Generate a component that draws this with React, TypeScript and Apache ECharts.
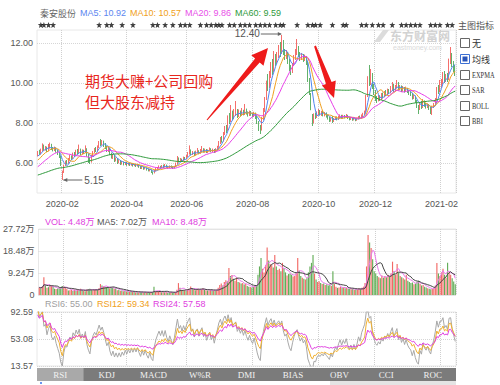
import React, { useEffect, useRef } from 'react';
import * as echarts from 'echarts';

const stockName = '秦安股份';
const priceLegend = ['MA5: 10.92', 'MA10: 10.57', 'MA20: 9.86', 'MA60: 9.59'];
const volLegend = ['VOL: 4.48万', 'MA5: 7.02万', 'MA10: 8.48万'];
const rsiLegend = ['RSI6: 55.00', 'RSI12: 59.34', 'RSI24: 57.58'];
const priceTicks = [6, 8, 10, 12];
const volTicks = [0, 9.24, 18.48, 27.72];
const rsiTicks = [13.57, 53.08, 92.59];
const indicatorTabs = ['RSI', 'KDJ', 'MACD', 'W%R', 'DMI', 'BIAS', 'OBV', 'CCI', 'ROC'];
const overlayOptions = ['无', '均线', 'EXPMA', 'SAR', 'BOLL', 'BBI'];
const noteLines = ['期货大赚+公司回购', '但大股东减持'];

const tradingDays: [string, number[]][] = [
  ['2020-01', [2, 3, 6, 7, 8, 9, 10, 13, 14, 15, 16, 17, 20, 21, 22, 23]],
  ['2020-02', [3, 4, 5, 6, 7, 10, 11, 12, 13, 14, 17, 18, 19, 20, 21, 24, 25, 26, 27, 28]],
  ['2020-03', [2, 3, 4, 5, 6, 9, 10, 11, 12, 13, 16, 17, 18, 19, 20, 23, 24, 25, 26, 27, 30, 31]],
  ['2020-04', [1, 2, 3, 7, 8, 9, 10, 13, 14, 15, 16, 17, 20, 21, 22, 23, 24, 27, 28, 29, 30]],
  ['2020-05', [6, 7, 8, 11, 12, 13, 14, 15, 18, 19, 20, 21, 22, 25, 26, 27, 28, 29]],
  ['2020-06', [1, 2, 3, 4, 5, 8, 9, 10, 11, 12, 15, 16, 17, 18, 19, 22, 23, 24, 29, 30]],
  ['2020-07', [1, 2, 3, 6, 7, 8, 9, 10, 13, 14, 15, 16, 17, 20, 21, 22, 23, 24, 27, 28, 29, 30, 31]],
  ['2020-08', [3, 4, 5, 6, 7, 10, 11, 12, 13, 14, 17, 18, 19, 20, 21, 24, 25, 26, 27, 28, 31]],
  ['2020-09', [1, 2, 3, 4, 7, 8, 9, 10, 11, 14, 15, 16, 17, 18, 21, 22, 23, 24, 25, 28, 29, 30]],
  ['2020-10', [9, 12, 13, 14, 15, 16, 19, 20, 21, 22, 23, 26, 27, 28, 29, 30]],
  ['2020-11', [2, 3, 4, 5, 6, 9, 10, 11, 12, 13, 16, 17, 18, 19, 20, 23, 24, 25, 26, 27, 30]],
  ['2020-12', [1, 2, 3, 4, 7, 8, 9, 10, 11, 14, 15, 16, 17, 18, 21, 22, 23, 24, 25, 28, 29, 30, 31]],
  ['2021-01', [4, 5, 6, 7, 8, 11, 12, 13, 14, 15, 18, 19, 20, 21, 22, 25, 26, 27, 28, 29]],
  ['2021-02', [1, 2, 3, 4, 5, 8, 9, 10, 18, 19]],
];

// closes before the visible window, estimated from where the MA lines start
const priorCloses = [
  5.10, 5.14, 5.08, 5.15, 5.20, 5.16, 5.12, 5.06, 5.10, 5.14,
  5.18, 5.24, 5.20, 5.26, 5.30, 5.25, 5.22, 5.18, 5.15, 5.20,
  5.24, 5.20, 5.16, 5.12, 5.15, 5.18, 5.22, 5.26, 5.22, 5.18,
  5.15, 5.12, 5.16, 5.20, 5.24, 5.28, 5.30, 5.25, 5.22, 5.26,
  5.30, 5.35, 5.38, 5.42, 5.45, 5.50, 5.52, 5.58, 5.62, 5.68,
  5.85, 5.90, 5.95, 6.00, 6.05, 6.20, 6.30, 6.35, 6.38,
];

// [open, close, low, high]
const candles: number[][] = [
  // 2020-01
  [6.38, 6.52, 6.33, 6.60], [6.52, 6.45, 6.40, 6.66], [6.45, 6.60, 6.42, 6.72], [6.60, 6.88, 6.56, 6.98], [6.86, 6.70, 6.62, 6.92],
  [6.70, 6.78, 6.62, 6.85], [6.78, 6.62, 6.55, 6.82], [6.62, 6.80, 6.58, 6.95], [6.80, 6.92, 6.72, 7.02], [6.90, 6.72, 6.65, 6.96],
  [6.72, 6.66, 6.58, 6.80], [6.66, 6.74, 6.60, 6.82], [6.74, 6.60, 6.52, 6.78], [6.60, 6.48, 6.40, 6.66], [6.48, 6.35, 6.25, 6.55],
  [6.32, 5.90, 5.85, 6.38],
  // 2020-02
  [5.40, 5.55, 5.15, 5.62], [5.55, 5.86, 5.50, 5.92], [5.90, 6.05, 5.85, 6.12], [6.05, 6.00, 5.92, 6.15], [6.00, 6.18, 5.96, 6.25],
  [6.18, 6.30, 6.12, 6.40], [6.30, 6.22, 6.15, 6.38], [6.22, 6.45, 6.20, 6.52], [6.45, 6.38, 6.30, 6.55], [6.38, 6.58, 6.35, 6.66],
  [6.58, 6.50, 6.42, 6.70], [6.50, 6.66, 6.46, 6.92], [6.66, 6.48, 6.40, 6.72], [6.48, 6.60, 6.42, 6.68], [6.60, 6.52, 6.45, 6.66],
  [6.52, 6.70, 6.50, 6.88], [6.70, 6.40, 6.32, 6.74], [6.40, 6.20, 6.00, 6.45], [6.20, 6.05, 5.95, 6.28], [6.05, 6.35, 6.02, 6.40],
  // 2020-03
  [6.35, 6.55, 6.30, 6.60], [6.55, 6.68, 6.50, 6.75], [6.68, 6.62, 6.55, 6.80], [6.62, 6.80, 6.58, 6.88], [6.80, 7.02, 6.75, 7.10],
  [7.02, 6.92, 6.85, 7.20], [6.92, 7.05, 6.88, 7.15], [7.05, 6.95, 6.80, 7.12], [6.95, 6.80, 6.70, 7.00], [6.80, 6.65, 6.55, 6.85],
  [6.65, 6.72, 6.55, 6.80], [6.72, 6.48, 6.40, 6.75], [6.48, 6.30, 6.22, 6.52], [6.30, 6.38, 6.20, 6.45], [6.38, 6.15, 6.05, 6.40],
  [6.15, 6.22, 6.08, 6.28], [6.22, 6.05, 5.95, 6.25], [6.05, 6.12, 5.98, 6.18], [6.12, 5.98, 5.90, 6.15], [5.98, 6.05, 5.92, 6.10],
  [6.05, 5.95, 5.88, 6.08], [5.95, 6.02, 5.90, 6.06],
  // 2020-04
  [6.02, 5.92, 5.86, 6.05], [5.92, 5.98, 5.88, 6.02], [5.98, 5.90, 5.85, 6.00], [5.90, 5.95, 5.86, 6.00], [5.95, 5.88, 5.82, 5.98],
  [5.88, 5.92, 5.84, 5.96], [5.92, 5.86, 5.80, 5.95], [5.86, 5.90, 5.82, 5.95], [5.90, 5.82, 5.76, 5.92], [5.82, 5.75, 5.70, 5.86],
  [5.75, 5.80, 5.70, 5.84], [5.80, 5.72, 5.66, 5.82], [5.72, 5.76, 5.68, 5.80], [5.76, 5.68, 5.62, 5.78], [5.68, 5.62, 5.58, 5.72],
  [5.62, 5.66, 5.58, 5.70], [5.66, 5.55, 5.50, 5.68], [5.55, 5.50, 5.42, 5.58], [5.50, 5.62, 5.48, 5.66], [5.62, 5.70, 5.58, 5.75],
  [5.70, 5.76, 5.66, 5.80],
  // 2020-05
  [5.76, 5.82, 5.72, 5.88], [5.82, 5.78, 5.72, 5.86], [5.78, 5.85, 5.75, 5.90], [5.85, 5.80, 5.75, 5.92], [5.80, 5.88, 5.78, 5.95],
  [5.88, 5.82, 5.76, 5.92], [5.82, 5.78, 5.72, 5.86], [5.78, 5.84, 5.74, 5.88], [5.84, 5.80, 5.75, 5.88], [5.80, 5.76, 5.70, 5.84],
  [5.76, 5.82, 5.72, 5.86], [5.82, 5.95, 5.80, 6.02], [5.95, 6.20, 5.92, 6.35], [6.20, 6.10, 6.02, 6.28], [6.10, 6.18, 6.05, 6.25],
  [6.18, 6.12, 6.05, 6.22], [6.12, 6.25, 6.10, 6.32], [6.25, 6.20, 6.14, 6.30],
  // 2020-06
  [6.20, 6.35, 6.18, 6.40], [6.35, 6.48, 6.30, 6.55], [6.48, 6.62, 6.42, 6.88], [6.62, 6.45, 6.38, 6.68], [6.45, 6.52, 6.40, 6.60],
  [6.52, 6.40, 6.35, 6.58], [6.40, 6.55, 6.38, 6.62], [6.55, 6.60, 6.48, 6.75], [6.60, 6.50, 6.44, 6.64], [6.50, 6.62, 6.46, 6.70],
  [6.62, 6.70, 6.56, 6.85], [6.70, 6.58, 6.52, 6.74], [6.58, 6.66, 6.52, 6.72], [6.66, 6.55, 6.50, 6.70], [6.55, 6.62, 6.50, 6.68],
  [6.62, 6.70, 6.58, 6.78], [6.70, 6.60, 6.54, 6.74], [6.60, 6.66, 6.55, 6.72], [6.66, 6.56, 6.50, 6.70], [6.56, 6.68, 6.52, 6.74],
  // 2020-07
  [6.68, 6.80, 6.62, 6.86], [6.80, 7.02, 6.76, 7.10], [7.02, 7.20, 6.95, 7.30], [7.20, 7.12, 7.02, 7.35], [7.12, 7.45, 7.08, 7.55],
  [7.45, 7.70, 7.40, 7.85], [7.70, 7.62, 7.50, 7.90], [7.62, 8.25, 7.60, 8.38], [8.25, 8.10, 7.95, 8.50], [8.10, 8.52, 8.05, 8.90],
  [8.52, 8.30, 8.15, 8.62], [8.30, 8.48, 8.20, 8.70], [8.48, 8.62, 8.35, 9.10], [8.62, 8.38, 8.25, 8.70], [8.38, 8.55, 8.30, 8.68],
  [8.55, 8.42, 8.32, 8.62], [8.42, 8.60, 8.36, 8.75], [8.60, 8.45, 8.38, 8.66], [8.45, 8.65, 8.40, 8.95], [8.65, 8.50, 8.42, 8.72],
  [8.50, 8.40, 8.32, 8.58], [8.40, 8.55, 8.35, 8.62], [8.55, 8.42, 8.36, 8.60],
  // 2020-08
  [8.42, 8.35, 8.28, 8.50], [8.35, 8.48, 8.30, 8.56], [8.48, 8.30, 8.20, 8.52], [8.30, 8.05, 7.95, 8.35], [8.05, 7.80, 7.60, 8.10],
  [7.80, 7.65, 7.45, 7.90], [7.65, 8.20, 7.62, 8.30], [8.20, 8.60, 8.15, 8.75], [8.60, 9.20, 8.55, 9.30], [9.20, 10.12, 9.15, 10.12],
  [10.12, 9.80, 9.60, 10.45], [9.80, 10.40, 9.75, 10.60], [10.40, 10.85, 10.25, 11.05], [10.85, 10.60, 10.40, 11.20], [10.60, 11.30, 10.55, 11.60],
  [11.30, 11.05, 10.85, 11.45], [11.05, 11.40, 10.95, 11.55], [11.40, 11.70, 11.25, 11.90], [11.70, 11.55, 11.30, 12.05], [11.55, 12.02, 11.45, 12.40],
  [12.02, 11.60, 11.40, 12.15],
  // 2020-09
  [11.60, 11.35, 11.15, 11.70], [11.35, 11.50, 11.20, 11.65], [11.50, 11.10, 10.95, 11.55], [11.10, 10.75, 10.60, 11.20], [10.75, 10.55, 10.40, 10.90],
  [10.55, 10.90, 10.50, 11.00], [10.90, 11.25, 10.85, 11.40], [11.25, 11.55, 11.15, 11.70], [11.55, 11.70, 11.40, 12.20], [11.70, 11.45, 11.30, 11.85],
  [11.45, 11.25, 11.10, 11.55], [11.25, 11.40, 11.15, 11.50], [11.40, 11.20, 11.05, 11.45], [11.20, 11.30, 11.10, 11.42], [11.30, 11.05, 10.90, 11.35],
  [11.05, 10.20, 10.05, 11.10], [10.20, 9.60, 9.40, 10.25], [9.45, 8.64, 8.64, 9.50], [8.40, 8.05, 7.85, 8.45], [8.05, 8.40, 7.98, 8.48],
  [8.40, 8.30, 8.20, 8.52], [8.30, 8.50, 8.25, 8.58],
  // 2020-10
  [8.50, 8.57, 8.40, 8.70], [8.57, 8.45, 8.37, 8.65], [8.45, 8.53, 8.35, 8.61], [8.53, 8.40, 8.33, 8.60], [8.40, 8.47, 8.33, 8.55],
  [8.47, 8.35, 8.27, 8.53], [8.35, 8.25, 8.17, 8.40], [8.25, 8.13, 8.05, 8.30], [8.13, 8.23, 8.07, 8.27], [8.23, 8.10, 8.00, 8.35],
  [8.10, 8.20, 8.05, 8.25], [8.20, 8.27, 8.15, 8.33], [8.27, 8.20, 8.13, 8.33], [8.20, 8.30, 8.15, 8.37], [8.30, 8.37, 8.23, 8.43],
  [8.37, 8.27, 8.21, 8.41],
  // 2020-11
  [8.27, 8.35, 8.21, 8.41], [8.35, 8.30, 8.23, 8.40], [8.30, 8.37, 8.25, 8.45], [8.37, 8.27, 8.20, 8.41], [8.27, 8.20, 8.13, 8.31],
  [8.20, 8.25, 8.15, 8.30], [8.25, 8.17, 8.11, 8.27], [8.17, 8.23, 8.13, 8.27], [8.23, 8.15, 8.09, 8.25], [8.15, 8.21, 8.11, 8.25],
  [8.21, 8.30, 8.17, 8.35], [8.30, 8.25, 8.19, 8.37], [8.25, 8.37, 8.23, 8.43], [8.37, 8.45, 8.30, 8.51], [8.45, 8.55, 8.40, 8.62],
  [8.55, 9.40, 8.52, 9.40], [9.40, 10.34, 9.30, 10.34], [10.34, 10.10, 9.85, 10.90], [10.10, 10.40, 9.90, 10.70], [10.40, 9.85, 9.70, 10.50],
  [9.85, 9.55, 9.40, 9.95],
  // 2020-12
  [9.55, 9.25, 9.10, 9.65], [9.25, 9.15, 9.00, 9.35], [9.15, 9.30, 9.08, 9.40], [9.30, 9.20, 9.10, 9.38], [9.20, 9.40, 9.15, 9.50],
  [9.40, 9.32, 9.22, 9.52], [9.32, 9.50, 9.28, 9.60], [9.50, 9.45, 9.35, 9.65], [9.45, 9.60, 9.40, 9.72], [9.60, 9.52, 9.45, 9.70],
  [9.52, 9.70, 9.48, 9.85], [9.70, 9.85, 9.60, 10.05], [9.85, 9.65, 9.55, 9.95], [9.65, 9.80, 9.58, 9.90], [9.80, 9.95, 9.72, 10.15],
  [9.95, 9.70, 9.62, 10.05], [9.70, 9.82, 9.65, 9.90], [9.82, 9.65, 9.55, 9.88], [9.65, 9.75, 9.58, 9.85], [9.75, 9.60, 9.52, 9.80],
  [9.60, 9.72, 9.55, 9.82], [9.72, 9.58, 9.50, 9.76], [9.58, 9.50, 9.40, 9.65],
  // 2021-01
  [9.50, 9.45, 9.35, 9.58], [9.45, 9.27, 9.17, 9.50], [9.27, 9.35, 9.20, 9.43], [9.35, 9.10, 9.00, 9.37], [9.10, 8.85, 8.75, 9.15],
  [8.85, 8.70, 8.45, 8.90], [8.70, 8.95, 8.65, 9.05], [8.95, 8.80, 8.70, 9.10], [8.80, 9.05, 8.75, 9.20], [9.05, 8.90, 8.81, 9.13],
  [8.90, 8.82, 8.72, 9.00], [8.82, 8.90, 8.75, 8.98], [8.90, 8.75, 8.65, 8.95], [8.75, 8.65, 8.45, 8.80], [8.65, 8.80, 8.40, 8.86],
  [8.80, 8.92, 8.75, 9.00], [8.92, 9.15, 8.88, 9.25], [9.15, 9.75, 9.12, 9.80], [9.75, 9.60, 9.45, 9.90], [9.60, 10.05, 9.55, 10.15],
  // 2021-02
  [9.95, 10.05, 9.75, 10.20], [10.05, 10.40, 9.95, 10.55], [10.40, 10.15, 10.00, 10.60], [10.15, 10.30, 10.05, 10.45], [10.30, 10.20, 10.05, 10.50],
  [10.20, 11.22, 10.15, 11.22], [11.22, 11.30, 10.95, 11.80], [11.30, 10.95, 10.80, 11.50], [10.95, 10.70, 10.55, 11.10], [10.70, 10.43, 10.35, 10.90],
];

// volume in 万
const volumes = [
  3.2, 2.8, 3.6, 7.5, 4.1, 3.0, 3.3, 3.8, 4.0, 3.4, 2.6, 2.5, 2.7, 2.9, 3.3, 3.8,
  3.5, 3.0, 2.5, 1.9, 2.0, 2.2, 1.7, 2.3, 1.8, 2.4, 1.8, 2.6, 2.0, 1.7, 1.6, 2.3, 2.5, 2.6, 2.1, 1.9,
  2.2, 2.5, 2.2, 2.8, 4.6, 4.0, 3.6, 3.4, 3.3, 3.0, 2.8, 3.2, 3.1, 2.6, 2.8, 2.0, 2.2, 1.8, 1.9, 1.6, 1.7, 1.5,
  1.5, 1.4, 1.3, 1.4, 1.3, 1.2, 1.2, 1.1, 1.3, 1.3, 1.1, 1.2, 1.0, 1.1, 1.2, 1.0, 1.3, 3.5, 1.4, 1.3, 1.5,
  1.4, 1.2, 1.3, 1.2, 1.4, 1.1, 1.0, 1.1, 1.0, 1.0, 1.2, 2.2, 5.0, 3.0, 2.2, 1.8, 2.0, 1.7,
  2.4, 2.6, 3.6, 2.8, 2.2, 2.0, 2.3, 2.6, 2.1, 2.4, 2.8, 2.2, 2.0, 1.9, 1.8, 2.2, 2.0, 1.8, 1.9, 2.2,
  3.0, 4.2, 4.8, 4.0, 5.5, 6.2, 5.8, 11.3, 8.0, 8.4, 6.8, 6.0, 7.5, 5.5, 5.2, 4.8, 5.0, 4.4, 4.6, 3.8, 3.5, 3.4, 3.2,
  3.5, 3.8, 4.2, 8.5, 12.0, 15.5, 11.0, 9.5, 12.5, 20.0, 14.5, 13.0, 12.5, 11.5, 16.8, 12.0, 10.5, 11.0, 10.0, 13.5, 11.2,
  9.5, 8.2, 8.8, 9.0, 8.5, 7.8, 8.0, 9.2, 15.5, 10.2, 8.0, 7.2, 6.8, 6.5, 7.0, 9.5, 12.0, 13.5, 16.8, 9.0, 6.5, 5.5,
  5.8, 5.0, 4.6, 4.8, 4.2, 4.5, 4.0, 4.4, 3.8, 10.0, 4.6, 3.5, 3.0, 3.2, 3.4, 3.0,
  3.2, 2.8, 3.0, 2.6, 2.5, 2.4, 2.6, 2.2, 2.4, 2.3, 2.8, 2.6, 3.0, 3.5, 5.0, 12.0, 25.2, 22.0, 19.7, 15.0, 10.0,
  9.0, 8.0, 7.5, 7.0, 8.2, 7.2, 8.0, 7.5, 8.5, 7.8, 9.0, 14.0, 10.0, 8.5, 13.0, 9.5, 8.0, 7.5, 7.0, 6.5, 8.5, 6.0, 5.5,
  5.0, 5.2, 4.5, 4.8, 5.5, 6.0, 4.6, 4.0, 4.2, 3.5, 3.2, 2.8, 2.6, 2.4, 2.5, 2.8, 4.0, 13.4, 9.0, 8.0,
  9.5, 11.0, 8.5, 7.2, 13.5, 9.5, 8.5, 7.0, 5.62, 4.48,
];

// trading-day indices that carry an event star above the price chart
const eventDays = [
  2, 4, 7, 10, 40, 45, 48, 55, 62, 75, 78, 83, 88, 93, 96, 99, 106, 110, 113, 116, 118, 120,
  125, 128, 132, 135, 138, 142, 145, 148, 151, 155, 158, 160, 169, 176, 179, 181, 184, 192,
  199, 201, 211, 214, 218, 222, 225, 231, 237, 240, 243, 246, 249, 256, 259, 262, 267, 270,
];
const dividendDay = 97;

const FONT = '"Liberation Sans", Arial, "Noto Sans CJK SC", sans-serif';
const SERIF = '"Liberation Serif", "DejaVu Serif", "Noto Sans CJK SC", serif';
const CJK = '"Noto Sans CJK SC", sans-serif';

const dates: string[] = [];
tradingDays.forEach(([m, days]) => days.forEach((d) => dates.push(`${m}-${String(d).padStart(2, '0')}`)));
const evenMonthStarts = new Set<number>();
{
  let idx = 0;
  tradingDays.forEach(([m, days]) => {
    if (parseInt(m.slice(5), 10) % 2 === 0) evenMonthStarts.add(idx);
    idx += days.length;
  });
}

const closes = candles.map((c) => c[1]);
const allCloses = priorCloses.concat(closes);
const P = priorCloses.length;

function priceMA(n: number) {
  return closes.map((_, i) => {
    const j = i + P;
    let s = 0;
    for (let k = j - n + 1; k <= j; k++) s += allCloses[k];
    return +(s / n).toFixed(3);
  });
}
function volMA(n: number) {
  return volumes.map((_, i) => {
    const from = Math.max(0, i - n + 1);
    let s = 0;
    for (let k = from; k <= i; k++) s += volumes[k];
    return +(s / (i - from + 1)).toFixed(3);
  });
}
function rsi(n: number) {
  let up = 0;
  let dn = 0;
  const out: number[] = [];
  for (let j = 1; j < allCloses.length; j++) {
    const d = allCloses[j] - allCloses[j - 1];
    up = (Math.max(d, 0) + (n - 1) * up) / n;
    dn = (Math.abs(d) + (n - 1) * dn) / n;
    if (j >= P) out.push(dn === 0 ? 50 : +((up / dn) * 100).toFixed(2));
  }
  return out;
}

const UP = '#f24a46';
const DOWN = '#3a9e46';

export default function App() {
  const ref = useRef<HTMLDivElement>(null);
  useEffect(() => {
    if (!ref.current) return;
    const chart = echarts.init(ref.current, undefined, { renderer: 'svg' });
    const gridBase = { left: 37, right: 44, show: true, borderColor: '#e8e8e8', borderWidth: 1 };
    const splitX = {
      show: true,
      interval: (index: number) => evenMonthStarts.has(index),
      lineStyle: { color: '#cfcfcf', type: 'dotted' as const, width: 1 },
    };
    const xCommon = (gridIndex: number, showLabel: boolean) => ({
      type: 'category' as const,
      gridIndex,
      data: dates,
      boundaryGap: true,
      axisLine: { show: false },
      axisTick: { show: false },
      axisLabel: showLabel
        ? {
            show: true,
            interval: (index: number) => evenMonthStarts.has(index),
            formatter: (v: string) => v.slice(0, 7),
            color: '#555',
            fontSize: 9,
            fontFamily: FONT,
            margin: 6,
          }
        : { show: false },
      splitLine: splitX,
    });
    const ySplit = { show: true, lineStyle: { color: '#d6d6d6', type: 'dotted' as const } };
    const yLabel = { color: '#555', fontSize: 9, fontFamily: FONT, margin: 4 };

    const volData = volumes.map((v, i) => ({
      value: v,
      itemStyle: { color: candles[i][1] >= candles[i][0] ? '#f26a66' : '#63ad58' },
    }));

    const option: any = {
      animation: false,
      backgroundColor: '#fff',
      grid: [
        { ...gridBase, top: 30, height: 163 },
        { ...gridBase, top: 229, height: 66 },
        { ...gridBase, top: 312, height: 54 },
      ],
      xAxis: [xCommon(0, true), xCommon(1, false), xCommon(2, false)],
      yAxis: [
        {
          type: 'value',
          gridIndex: 0,
          min: 4.5,
          max: 12.65,
          axisLine: { show: false },
          axisTick: { show: false, customValues: priceTicks },
          axisLabel: { ...yLabel, customValues: priceTicks, formatter: (v: number) => v.toFixed(2) },
          splitLine: ySplit,
        },
        {
          type: 'value',
          gridIndex: 1,
          min: volTicks[0],
          max: volTicks[3],
          interval: volTicks[1],
          axisLine: { show: false },
          axisTick: { show: false },
          axisLabel: { ...yLabel, formatter: (v: number) => (v === 0 ? '0' : v.toFixed(2) + '万') },
          splitLine: ySplit,
        },
        {
          type: 'value',
          gridIndex: 2,
          min: rsiTicks[0],
          max: rsiTicks[2],
          interval: rsiTicks[1] - rsiTicks[0],
          axisLine: { show: false },
          axisTick: { show: false },
          axisLabel: { ...yLabel, formatter: (v: number) => v.toFixed(2) },
          splitLine: ySplit,
        },
      ],
      series: [
        {
          type: 'candlestick',
          xAxisIndex: 0,
          yAxisIndex: 0,
          data: candles,
          barWidth: '65%',
          itemStyle: { color: UP, color0: DOWN, borderColor: UP, borderColor0: DOWN, borderWidth: 0.8 },
        },
        ...[
          [5, '#4f86f0'],
          [10, '#f0a020'],
          [20, '#e83ee8'],
          [60, '#2f9a3c'],
        ].map(([n, c]) => ({
          type: 'line',
          xAxisIndex: 0,
          yAxisIndex: 0,
          data: priceMA(n as number),
          showSymbol: false,
          symbol: 'none',
          lineStyle: { color: c, width: 1 },
          z: 3,
        })),
        {
          type: 'scatter',
          xAxisIndex: 0,
          yAxisIndex: 0,
          clip: false,
          data: eventDays.map((i) => [i, 12.9]),
          symbol: 'path://M0,-5L1.3,-1.7L5,-1.6L2.1,0.8L3.1,4.6L0,2.5L-3.1,4.6L-2.1,0.8L-5,-1.6L-1.3,-1.7Z',
          symbolSize: 6,
          itemStyle: { color: '#111' },
        },
        {
          type: 'scatter',
          xAxisIndex: 0,
          yAxisIndex: 0,
          clip: false,
          data: [[dividendDay, 4.68]],
          symbolSize: 1,
          itemStyle: { opacity: 0 },
          label: { show: true, position: 'inside', formatter: '$', color: '#e02020', fontSize: 10, fontFamily: FONT },
        },
        {
          type: 'bar',
          xAxisIndex: 1,
          yAxisIndex: 1,
          data: volData,
          barWidth: '75%',
        },
        {
          type: 'line',
          xAxisIndex: 1,
          yAxisIndex: 1,
          data: volMA(5),
          showSymbol: false,
          symbol: 'none',
          lineStyle: { color: '#ea7aea', width: 1 },
        },
        {
          type: 'line',
          xAxisIndex: 1,
          yAxisIndex: 1,
          data: volMA(10),
          showSymbol: false,
          symbol: 'none',
          lineStyle: { color: '#444', width: 1 },
        },
        ...[
          [6, '#a8a8a8'],
          [12, '#f0b030'],
          [24, '#e040e0'],
        ].map(([n, c]) => ({
          type: 'line',
          xAxisIndex: 2,
          yAxisIndex: 2,
          data: rsi(n as number),
          showSymbol: false,
          symbol: 'none',
          lineStyle: { color: c, width: 1 },
        })),
      ],
    };
    chart.setOption(option);

    // annotations tied to the extreme prices
    let maxI = 0;
    let minI = 0;
    candles.forEach((c, i) => {
      if (c[3] > candles[maxI][3]) maxI = i;
      if (c[2] < candles[minI][2]) minI = i;
    });
    const pMax = chart.convertToPixel({ xAxisIndex: 0, yAxisIndex: 0 }, [maxI, candles[maxI][3]]) as number[];
    const pMin = chart.convertToPixel({ xAxisIndex: 0, yAxisIndex: 0 }, [minI, candles[minI][2]]) as number[];

    const txt = (x: number, y: number, text: string, fill: string, extra: any = {}, el: any = {}) => ({
      type: 'text',
      x,
      y,
      z: 100,
      ...el,
      style: { text, fill, fontSize: 9, fontFamily: FONT, textVerticalAlign: 'middle', ...extra },
    });

    const graphics: any[] = [];
    // header
    graphics.push(txt(40, 13, stockName, '#666', { fontFamily: CJK }));
    const legColors = ['#5b86f0', '#f0a020', '#e850e8', '#2f9a3c'];
    const legX = [80, 130, 185, 235];
    priceLegend.forEach((t, k) => graphics.push(txt(legX[k], 13, t, legColors[k])));
    // watermark
    graphics.push({
      type: 'polygon',
      z: 1,
      shape: { points: [[374, 42], [383, 30], [389, 30], [380, 42]] },
      style: { fill: '#dcdcdc' },
    });
    graphics.push(txt(390, 35, '东方财富网', '#d2d2d2', { fontSize: 12, fontWeight: 'bold', fontFamily: CJK }));
    graphics.push(txt(393, 47, 'eastmoney.com', '#dadada', { fontSize: 7 }));
    // right indicator selector
    graphics.push(txt(458, 25, '主图指标', '#555', { fontSize: 9, fontFamily: CJK }));
    const optY = [43, 59, 75, 90, 106, 121];
    overlayOptions.forEach((t, k) => {
      const checked = k === 1;
      graphics.push({
        type: 'rect',
        z: 100,
        shape: { x: 460.5, y: optY[k] - 4.5, width: 9, height: 9 },
        style: { fill: '#fff', stroke: checked ? '#3b6fd4' : '#666', lineWidth: 1 },
      });
      if (checked)
        graphics.push({
          type: 'rect',
          z: 101,
          shape: { x: 462.5, y: optY[k] - 2.5, width: 5, height: 5 },
          style: { fill: '#2a55b8' },
        });
      graphics.push(txt(472, optY[k], t, '#333', { fontSize: 9, fontFamily: k < 2 ? CJK : SERIF }, { scaleX: k < 2 ? 1 : 0.72 }));
    });
    // red commentary
    noteLines.forEach((t, k) =>
      graphics.push(txt(85, 80 + k * 21, t, '#e8271e', { fontSize: 15, fontFamily: CJK }))
    );
    graphics.push({
      type: 'polygon',
      z: 100,
      shape: {
        points: [[207.4, 120.3], [259.7, 62.4], [263.5, 65.7], [268, 48], [251.3, 55.3], [255.1, 58.6], [206.6, 119.7]],
      },
      style: { fill: '#ee1b1b' },
    });
    graphics.push({
      type: 'polygon',
      z: 100,
      shape: {
        points: [[315.9, 45.6], [331.6, 81.9], [335.8, 80.4], [334, 98], [321.8, 85.4], [326, 84], [314.1, 46.4]],
      },
      style: { fill: '#ee1b1b' },
    });
    // max / min markers
    const my = pMax[1] - 1;
    graphics.push({ type: 'line', z: 100, shape: { x1: pMax[0] - 21, y1: my, x2: pMax[0] - 1, y2: my }, style: { stroke: '#666', lineWidth: 1 } });
    graphics.push({
      type: 'polygon',
      z: 100,
      shape: { points: [[pMax[0], my], [pMax[0] - 4, my - 2], [pMax[0] - 4, my + 2]] },
      style: { fill: '#666' },
    });
    graphics.push(txt(pMax[0] - 22, my - 1, candles[maxI][3].toFixed(2), '#555', { textAlign: 'right', fontSize: 10 }));
    const ny = pMin[1];
    graphics.push({ type: 'line', z: 100, shape: { x1: pMin[0] + 1, y1: ny, x2: pMin[0] + 20, y2: ny }, style: { stroke: '#666', lineWidth: 1 } });
    graphics.push({
      type: 'polygon',
      z: 100,
      shape: { points: [[pMin[0] + 1, ny], [pMin[0] + 5, ny - 2], [pMin[0] + 5, ny + 2]] },
      style: { fill: '#666' },
    });
    graphics.push(txt(pMin[0] + 22, ny, candles[minI][2].toFixed(2), '#555', { fontSize: 10 }));
    // volume header
    const volColors = ['#e040e0', '#555', '#e040e0'];
    const volX = [45, 97, 152];
    volLegend.forEach((t, k) => graphics.push(txt(volX[k], 222, t, volColors[k])));
    // rsi header
    const rsiColors = ['#a0a0a0', '#f0a020', '#e040e0'];
    const rsiX = [45, 97, 153];
    rsiLegend.forEach((t, k) => graphics.push(txt(rsiX[k], 304, t, rsiColors[k])));
    // tab bar
    const tabW = 419 / indicatorTabs.length;
    graphics.push({ type: 'rect', z: 100, shape: { x: 37, y: 368, width: 419, height: 13 }, style: { fill: '#7b7b7b' } });
    graphics.push({ type: 'rect', z: 100, shape: { x: 37, y: 368, width: tabW, height: 13 }, style: { fill: '#a9a9a9' } });
    indicatorTabs.forEach((t, k) =>
      graphics.push(txt(37 + (k + 0.5) * tabW, 374.5, t, '#f2f2f2', { fontSize: 9, fontFamily: SERIF, textAlign: 'center' }))
    );
    graphics.push({ type: 'rect', z: 100, shape: { x: 330, y: 381, width: 126, height: 4 }, style: { fill: '#e4e4e4' } });
    graphics.push({ type: 'rect', z: 100, shape: { x: 40, y: 382, width: 2, height: 2 }, style: { fill: '#6b95f0' } });

    chart.setOption({ graphic: graphics });
    return () => chart.dispose();
  }, []);
  return <div ref={ref} style={{ position: 'fixed', left: 0, top: 0, width: 500, height: 385, background: '#fff' }} />;
}
